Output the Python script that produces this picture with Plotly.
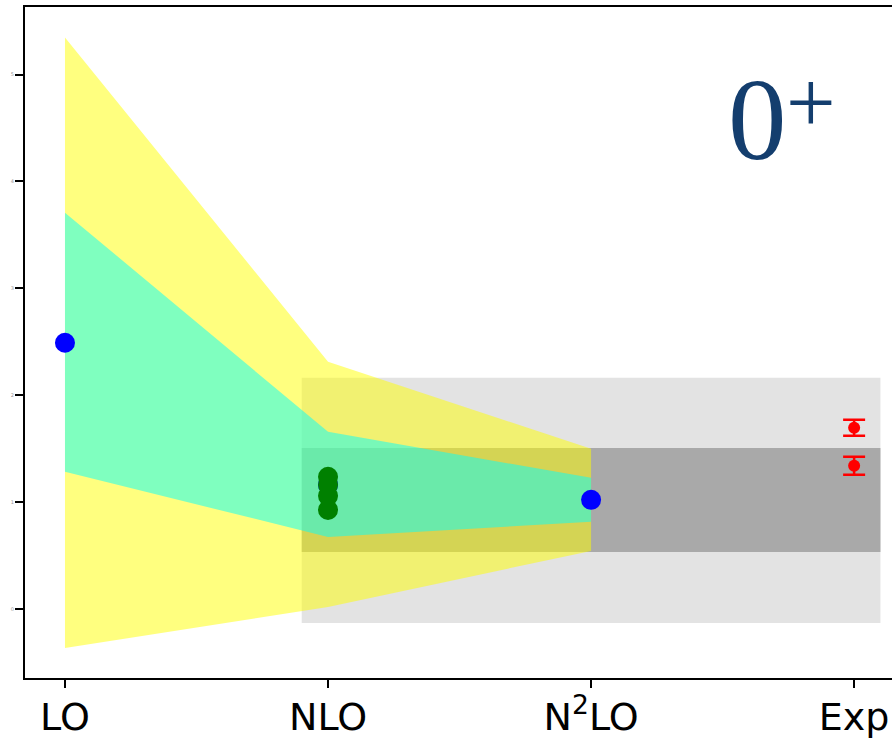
import plotly.graph_objects as go

# ---------------- data ----------------
categories = ["LO", "NLO", "N<sup>2</sup>LO", "Exp"]
x_pos = [0, 1, 2, 3]

# theory orders LO, NLO, N2LO
band_outer_upper = [5.346, 2.313, 1.498]
band_outer_lower = [-0.365, 0.019, 0.543]
band_inner_upper = [3.708, 1.657, 1.227]
band_inner_lower = [1.283, 0.674, 0.815]

central_values = [2.491, 1.161, 1.021]
nlo_variants = [1.236, 1.161, 1.058, 0.927]

exp_values = [1.695, 1.339]
exp_errors = [0.075, 0.084]

grey_x = [0.9, 3.1]
grey_wide = [-0.131, 2.163]
grey_narrow = [0.534, 1.507]

y_ticks = [0, 1, 2, 3, 4, 5]

# ---------------- figure ----------------
fig = go.Figure()

orders = x_pos[:3]

fig.add_trace(go.Scatter(
    x=orders + orders[::-1],
    y=band_outer_upper + band_outer_lower[::-1],
    fill="toself", fillcolor="rgba(255,255,0,0.5)",
    mode="none", hoverinfo="skip", showlegend=False))

fig.add_trace(go.Scatter(
    x=orders + orders[::-1],
    y=band_inner_upper + band_inner_lower[::-1],
    fill="toself", fillcolor="rgba(0,255,255,0.5)",
    mode="none", hoverinfo="skip", showlegend=False))

fig.add_trace(go.Scatter(
    x=orders, y=central_values, mode="markers",
    marker=dict(color="blue", size=20, line=dict(width=0)),
    showlegend=False))

fig.add_trace(go.Scatter(
    x=[x_pos[1]] * len(nlo_variants), y=nlo_variants, mode="markers",
    marker=dict(color="green", size=20, line=dict(width=0)),
    showlegend=False))

fig.add_trace(go.Scatter(
    x=[x_pos[3]] * len(exp_values), y=exp_values, mode="markers",
    marker=dict(color="red", size=12, line=dict(width=0)),
    error_y=dict(type="data", array=exp_errors, color="red",
                 thickness=2.5, width=11),
    showlegend=False))

# grey experimental bands (below traces)
fig.add_shape(type="rect", layer="below", xref="x", yref="y",
              x0=grey_x[0], x1=grey_x[1], y0=grey_wide[0], y1=grey_wide[1],
              fillcolor="rgb(227,227,227)", line=dict(width=0))
fig.add_shape(type="rect", layer="below", xref="x", yref="y",
              x0=grey_x[0], x1=grey_x[1], y0=grey_narrow[0], y1=grey_narrow[1],
              fillcolor="rgb(169,169,169)", line=dict(width=0))

label_color = "rgb(20,62,110)"
fig.add_annotation(
    text="0", xref="paper", yref="paper",
    x=0.8454, y=0.833, xanchor="center", yanchor="middle",
    showarrow=False,
    font=dict(family="Liberation Serif", size=117, color=label_color))
fig.add_annotation(
    text="+", xref="paper", yref="paper",
    x=0.906, y=0.858, xanchor="center", yanchor="middle",
    showarrow=False,
    font=dict(family="Liberation Serif", size=88, color=label_color))

fig.update_layout(
    width=892, height=738,
    margin=dict(l=25, r=0, t=7, b=60),
    paper_bgcolor="white", plot_bgcolor="white",
    xaxis=dict(
        range=[-0.152, 3.144], automargin=False,
        tickmode="array", tickvals=x_pos, ticktext=categories,
        showgrid=False, zeroline=False,
        showline=True, linecolor="black", linewidth=2, mirror=True,
        ticks="outside", ticklen=8, tickwidth=1.5, tickcolor="black",
        ticklabelstandoff=-4,
        tickfont=dict(family="DejaVu Sans", size=38, color="black"),
    ),
    yaxis=dict(
        range=[-0.646, 5.632], automargin=False,
        tickmode="array", tickvals=y_ticks,
        ticktext=[str(t) for t in y_ticks],
        showgrid=False, zeroline=False,
        showline=True, linecolor="black", linewidth=2,
        ticks="outside", ticklen=8, tickwidth=2, tickcolor="black",
        tickfont=dict(family="DejaVu Sans", size=5, color="#999999"),
    ),
)

fig.write_html(
    "out.html",
    config={"displayModeBar": False},
    post_script="document.body.style.margin='0';document.body.style.overflow='hidden';",
)
